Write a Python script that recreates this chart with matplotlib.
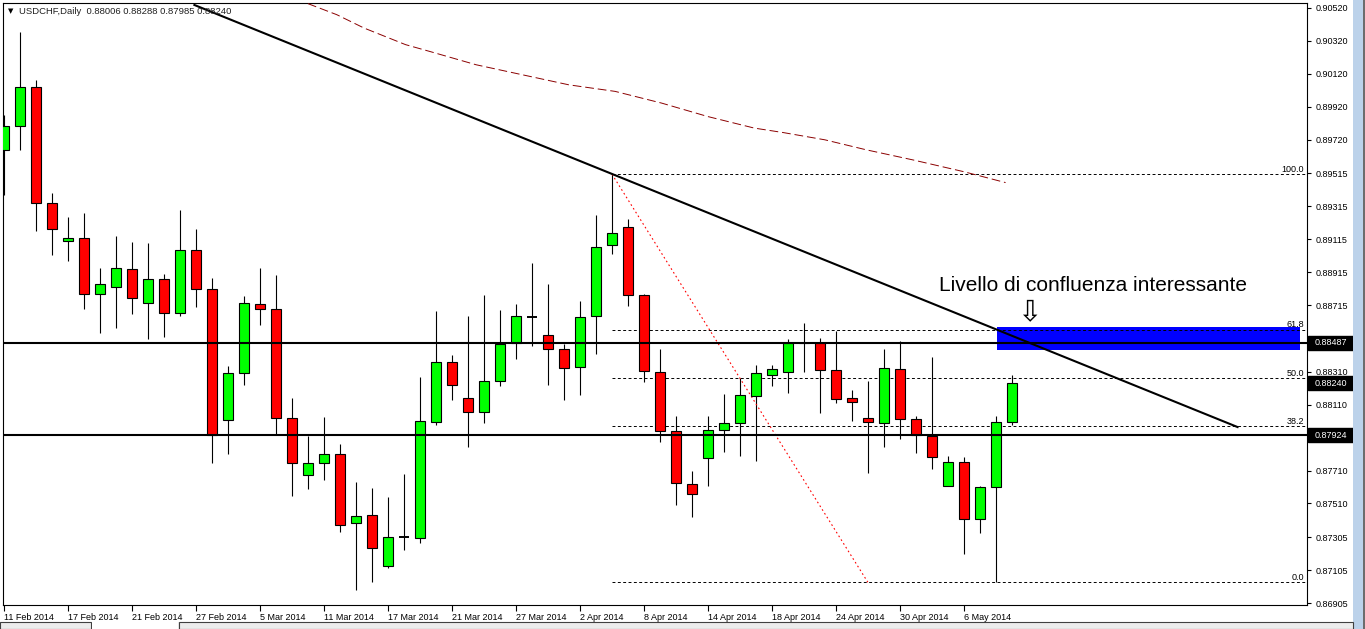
import matplotlib
matplotlib.use("Agg")
import matplotlib.pyplot as plt
import matplotlib.transforms as mtransforms
from matplotlib.patches import Rectangle

plt.rcParams['font.family'] = ['Liberation Sans', 'DejaVu Sans']

# --- data ----------------------------------------------------------------
header = "USDCHF,Daily  0.88006 0.88288 0.87985 0.88240"

opens = [0.89657, 0.89804, 0.90041, 0.89334, 0.89104, 0.89122, 0.88780, 0.88822,
         0.88934, 0.88727, 0.88873, 0.88664, 0.89050, 0.88810, 0.88019, 0.88301,
         0.88723, 0.88689, 0.88029, 0.87684, 0.87757, 0.87811, 0.87389, 0.87442,
         0.87127, 0.87307, 0.87303, 0.88005, 0.88368, 0.88150, 0.88065, 0.88253,
         0.88487, 0.88642, 0.88531, 0.88447, 0.88338, 0.88646, 0.89082, 0.89191,
         0.88774, 0.88307, 0.87948, 0.87629, 0.87787, 0.87958, 0.87999, 0.88162,
         0.88289, 0.88307, 0.88483, 0.88483, 0.88320, 0.88150, 0.88029, 0.87999,
         0.88326, 0.88023, 0.87918, 0.87617, 0.87763, 0.87418, 0.87611, 0.88006]
highs = [0.89867, 0.90371, 0.90083, 0.89397, 0.89250, 0.89276, 0.88943, 0.89136,
         0.89101, 0.89094, 0.88903, 0.89290, 0.89180, 0.88880, 0.88345, 0.88769,
         0.88939, 0.88897, 0.88150, 0.87918, 0.88035, 0.87872, 0.87640, 0.87605,
         0.87551, 0.87686, 0.88277, 0.88677, 0.88412, 0.88648, 0.88776, 0.88685,
         0.88721, 0.88973, 0.88846, 0.88477, 0.88739, 0.89260, 0.89510, 0.89240,
         0.88780, 0.88449, 0.88043, 0.87710, 0.88043, 0.88176, 0.88269, 0.88352,
         0.88352, 0.88507, 0.88606, 0.88513, 0.88556, 0.88200, 0.88255, 0.88449,
         0.88495, 0.88039, 0.88400, 0.87801, 0.87795, 0.87617, 0.88041, 0.88288]
lows = [0.89385, 0.89660, 0.89166, 0.89017, 0.88985, 0.88692, 0.88548, 0.88578,
        0.88659, 0.88506, 0.88524, 0.88648, 0.88701, 0.87757, 0.87808, 0.88231,
        0.88596, 0.87934, 0.87555, 0.87595, 0.87650, 0.87337, 0.86986, 0.87030,
        0.87120, 0.87228, 0.87272, 0.87987, 0.88136, 0.87851, 0.87999, 0.88221,
        0.88388, 0.88467, 0.88231, 0.88136, 0.88170, 0.88418, 0.89026, 0.88711,
        0.88245, 0.87882, 0.87500, 0.87428, 0.87615, 0.87823, 0.87797, 0.87767,
        0.88221, 0.88178, 0.88311, 0.88057, 0.88120, 0.88009, 0.87696, 0.87853,
        0.87902, 0.87815, 0.87718, 0.87615, 0.87204, 0.87331, 0.87030, 0.87985]
closes = [0.89804, 0.90041, 0.89334, 0.89176, 0.89122, 0.88780, 0.88843, 0.88941,
          0.88757, 0.88873, 0.88664, 0.89050, 0.88810, 0.87924, 0.88301, 0.88727,
          0.88689, 0.88029, 0.87757, 0.87757, 0.87811, 0.87381, 0.87434, 0.87242,
          0.87309, 0.87307, 0.88009, 0.88368, 0.88229, 0.88065, 0.88253, 0.88479,
          0.88646, 0.88642, 0.88447, 0.88332, 0.88640, 0.89070, 0.89155, 0.88774,
          0.88313, 0.87948, 0.87635, 0.87569, 0.87956, 0.87999, 0.88168, 0.88301,
          0.88326, 0.88483, 0.88487, 0.88320, 0.88144, 0.88126, 0.88005, 0.88332,
          0.88023, 0.87924, 0.87793, 0.87763, 0.87418, 0.87611, 0.88005, 0.88240]

date_labels = ["11 Feb 2014", "17 Feb 2014", "21 Feb 2014", "27 Feb 2014",
               "5 Mar 2014", "11 Mar 2014", "17 Mar 2014", "21 Mar 2014",
               "27 Mar 2014", "2 Apr 2014", "8 Apr 2014", "14 Apr 2014",
               "18 Apr 2014", "24 Apr 2014", "30 Apr 2014", "6 May 2014"]
date_bars = [0, 4, 8, 12, 16, 20, 24, 28, 32, 36, 40, 44, 48, 52, 56, 60]

price_ticks = [0.90520, 0.90320, 0.90120, 0.89920, 0.89720, 0.89515, 0.89315,
               0.89115, 0.88915, 0.88715, 0.88510, 0.88310, 0.88110,
               0.87710, 0.87510, 0.87305, 0.87105, 0.86905]

levels = [0.88487, 0.87924]
bid = 0.88240

fib_high, fib_low = 0.89510, 0.87030
fib_bars = [38, 54]
fib_ratios = [100.0, 61.8, 50.0, 38.2, 0.0]

trend_bars = [11.9, 77.1]
trend_prices = [0.90538, 0.87974]

ma_bars = [19.0, 20.8, 22.5, 25.1, 26.6, 29.5, 32.4, 35.3, 38.2, 41.1, 44.0,
           46.9, 48.7, 51.3, 53.9, 56.8, 60.0, 62.6]
ma_prices = [0.90546, 0.90479, 0.90398, 0.90297, 0.90256, 0.90175, 0.90114,
             0.90053, 0.90013, 0.89942, 0.89860, 0.89790, 0.89763, 0.89719,
             0.89658, 0.89597, 0.89525, 0.89459]

zone_bars = [62.06, 81.0]
zone_prices = [0.88442, 0.88582]

note = "Livello di confluenza interessante"
note_pos = (58.44, 0.88801)
arrow_pos = (64.06, 0.88670)

# --- figure --------------------------------------------------------------
W, H = 1365, 629
fig = plt.figure(figsize=(W / 100, H / 100), dpi=100)
fig.patch.set_facecolor('white')
ax = fig.add_axes([3 / W, (H - 605) / H, 1304 / W, 602 / H])
ax.set_xlim(-0.0625, 81.44)
ax.set_ylim(0.86893, 0.90550)

# candles
for i, (o, h, l, c) in enumerate(zip(opens, highs, lows, closes)):
    ax.vlines(i, l, h, color='black', lw=0.8, zorder=3)
    if abs(c - o) < 0.00003:
        ax.hlines(o, i - 0.32, i + 0.32, color='black', lw=1.4, zorder=4)
        continue
    col = '#00ff00' if c > o else '#ff0000'
    ax.add_patch(Rectangle((i - 0.32, min(o, c)), 0.64, abs(c - o),
                           facecolor=col, edgecolor='black', lw=0.8, zorder=4))

# blue zone
ax.add_patch(Rectangle((zone_bars[0], zone_prices[0]), zone_bars[1] - zone_bars[0],
                       zone_prices[1] - zone_prices[0], facecolor='#0000ff',
                       edgecolor='none', zorder=2))

# horizontal levels
for p in levels:
    ax.axhline(p, color='black', lw=1.5, zorder=5)

# fibonacci
x_right = ax.get_xlim()[1]
for r in fib_ratios:
    lv = fib_low + (fib_high - fib_low) * r / 100
    ax.hlines(lv, fib_bars[0], x_right, colors='black', lw=0.7,
              linestyles=(0, (3, 2.5)), zorder=3)
    ax.text(81.25, lv + 0.00004, f"{r:.1f}", fontsize=6.5, ha='right', va='bottom',
            zorder=6)
ax.plot(fib_bars, [fib_high, fib_low], color='#ff0000', lw=0.8,
        ls=(0, (1.5, 2.5)), zorder=3)

# trendline and moving average
ax.plot(trend_bars, trend_prices, color='black', lw=1.5, zorder=5)
ax.plot(ma_bars, ma_prices, color='#8b0000', lw=0.7, ls=(0, (9, 4)), zorder=3)

# annotation
ax.text(note_pos[0], note_pos[1], note, fontsize=15, ha='left', va='baseline', zorder=7)
ax.text(arrow_pos[0], arrow_pos[1], "\u21e9", fontsize=21, ha='center', va='center',
        family=['DejaVu Sans'], zorder=7)

# axes styling
for s in ax.spines.values():
    s.set_color('black')
    s.set_linewidth(0.8)
ax.yaxis.tick_right()
ax.set_yticks(price_ticks)
ax.set_yticklabels([f"{p:.5f}" for p in price_ticks])
ax.tick_params(axis='y', length=3, width=0.8, labelsize=6.5, pad=3)
ax.set_xticks(date_bars)
ax.set_xticklabels(date_labels, ha='left')
ax.tick_params(axis='x', length=4, width=0.8, labelsize=6.5, pad=2)

# price boxes on the right scale
blend = mtransforms.blended_transform_factory(ax.transAxes, ax.transData)
box_h = 14 / 16459
for p in levels + [bid]:
    ax.add_patch(Rectangle((1.0007, p - box_h / 2), 0.0345, box_h, transform=blend,
                           facecolor='black', edgecolor='black', clip_on=False, zorder=10))
    ax.text(1.0055, p, f"{p:.5f}", transform=blend, color='white', fontsize=6.5,
            ha='left', va='center', clip_on=False, zorder=11)

# header
fig.text(8 / W, 1 - 11 / H, "\u25bc", fontsize=5, va='center', ha='left',
         family=['DejaVu Sans'])
fig.text(19 / W, 1 - 11 / H, header, fontsize=6.8, va='center', ha='left', color='#202020')

# window chrome: scrollbar strip and bottom tabs
fig.patches.append(Rectangle((1353 / W, 0), 10 / W, 1, transform=fig.transFigure,
                             facecolor='#bcd2ea', edgecolor='none'))
fig.patches.append(Rectangle((1363 / W, 0), 2 / W, 1, transform=fig.transFigure,
                             facecolor='#6d6d6d', edgecolor='none'))
fig.patches.append(Rectangle((0, 0), 1353 / W, 7 / H, transform=fig.transFigure,
                             facecolor='#ececec', edgecolor='none'))
for x0, x1 in [(0, 91), (179, 1353)]:
    fig.patches.append(Rectangle((x0 / W, 0), (x1 - x0) / W, 7 / H,
                                 transform=fig.transFigure, facecolor='none',
                                 edgecolor='#404040', lw=0.8))
fig.patches.append(Rectangle((92 / W, 0), 86 / W, 7 / H, transform=fig.transFigure,
                             facecolor='white', edgecolor='none'))

fig.savefig("out.png", dpi=100)
